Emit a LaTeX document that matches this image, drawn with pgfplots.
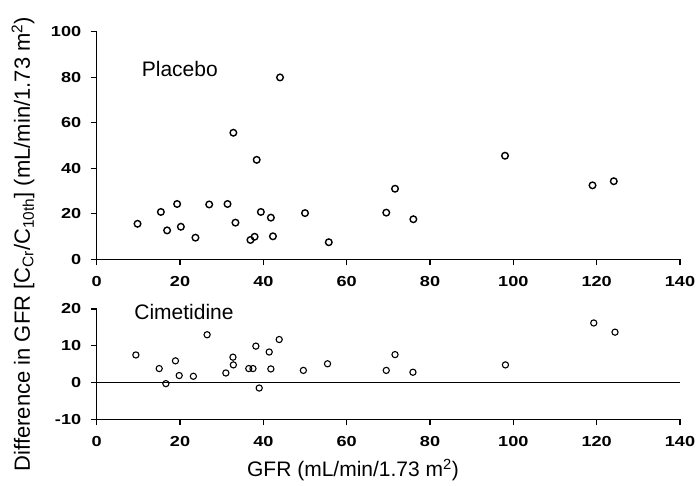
\documentclass[border=0pt]{standalone}
\usepackage{fontspec}
\setmainfont{Liberation Sans}
\newfontfamily\tickfont[FakeStretch=1.25]{Liberation Sans}
\usepackage{pgfplots}
\pgfplotsset{compat=1.18}
\begin{document}
\begin{tikzpicture}
\useasboundingbox (0pt,0pt) rectangle (700pt,486pt);
\pgfplotsset{
  every axis/.style={
    scale only axis,
    width=583.3pt,
    xmin=0, xmax=140,
    axis x line*=bottom, axis y line*=left,
    axis line style={line width=1.3pt, -},
    tick style={line width=1.1pt, black},
    tick align=outside,
    major tick length=6pt,
    xtick={0,20,...,140},
    tick label style={font=\tickfont\fontsize{14.5}{17}\selectfont\bfseries},
    /pgf/number format/assume math mode=true,
    clip=false,
    xticklabel style={yshift=-8pt},
    yticklabel style={xshift=-6pt},
  }
}
\begin{axis}[at={(96.7pt,226.7pt)}, anchor=south west, height=227.6pt,
  ymin=0, ymax=100, ytick={0,20,...,100}]
\addplot[only marks, mark=o, mark size=3.3pt, mark options={line width=1.4pt, black}] coordinates {
(9.8,15.6) (15.4,20.8) (16.9,12.7) (19.3,24.3) (20.2,14.3) (23.7,9.5)
(27.0,24.1) (31.4,24.3) (32.8,55.6) (33.3,16.1) (36.9,8.5) (37.9,9.9)
(38.4,43.7) (39.4,20.8) (41.8,18.3) (42.3,10.1) (44.0,79.9) (50.0,20.3)
(55.7,7.5) (69.5,20.5) (71.6,31.0) (76.0,17.6) (98.0,45.5) (119.0,32.5)
(124.1,34.3)};
\node[anchor=west, inner sep=0pt, font=\fontsize{21}{24}\selectfont] at (axis cs:10.8,83.6) {Placebo};
\end{axis}
\begin{axis}[at={(96.7pt,66.7pt)}, anchor=south west, height=110.3pt,
  ymin=-10, ymax=20, ytick={-10,0,10,20}, yticklabels={-10,0,10,20}]
\addplot[black, line width=1.2pt, forget plot] coordinates {(0,0) (140,0)};
\addplot[only marks, mark=o, mark size=3.1pt, mark options={line width=1.1pt, black}] coordinates {
(9.4,7.5) (15.0,3.8) (16.6,-0.3) (18.9,5.9) (19.8,1.9) (23.2,1.7)
(26.5,13.0) (31.0,2.6) (32.7,6.9) (32.8,4.8) (36.5,3.8) (37.5,3.8)
(38.2,9.9) (39.0,-1.5) (41.4,8.3) (41.8,3.7) (43.8,11.7) (49.6,3.3)
(55.4,5.1) (69.5,3.3) (71.6,7.6) (75.9,2.8) (98.1,4.8) (119.3,16.2)
(124.4,13.7)};
\node[anchor=west, inner sep=0pt, font=\fontsize{21}{24}\selectfont] at (axis cs:9.0,19.1) {Cimetidine};
\end{axis}
\node[rotate=90, font=\fontsize{22}{25}\selectfont] at (23pt,242pt) {Difference in GFR [C\textsubscript{Cr}/C\textsubscript{10th}] (mL/min/1.73 m\textsuperscript{2})};
\node[font=\fontsize{21}{24}\selectfont] at (353pt,16pt) {GFR (mL/min/1.73 m\textsuperscript{2})};
\end{tikzpicture}
\end{document}
